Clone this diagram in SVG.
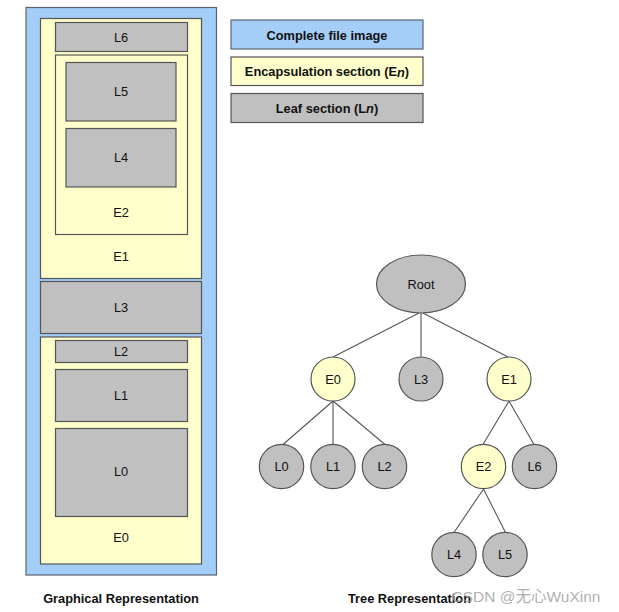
<svg xmlns="http://www.w3.org/2000/svg" width="619" height="612" viewBox="0 0 619 612">
<style>
.blue{fill:#a4cdf7;stroke:#5a6470;stroke-width:1.2}
.enc{fill:#ffffcc;stroke:#555;stroke-width:1.2}
.leaf{fill:#c0c0c0;stroke:#555;stroke-width:1.2}
.t{font-family:"Liberation Sans",Arial,sans-serif;font-size:12.8px;fill:#111;text-anchor:middle;dominant-baseline:central}
.b{font-weight:bold;font-size:12.8px}
.edge{stroke:#555;stroke-width:1.1;fill:none}
</style>
<rect width="619" height="612" fill="#fff"/>
<g id="graphical">
  <g id="file"><rect class="blue" x="26" y="7.5" width="190.5" height="567.5"/></g>
  <g id="gE1"><rect class="enc" x="40.5" y="18.5" width="161" height="260"/><text class="t" x="121" y="256">E1</text></g>
  <g id="gL6"><rect class="leaf" x="55.5" y="22.5" width="132" height="29"/><text class="t" x="121" y="37">L6</text></g>
  <g id="gE2"><rect class="enc" x="55.5" y="55" width="132" height="179.5"/><text class="t" x="121" y="212">E2</text></g>
  <g id="gL5"><rect class="leaf" x="66" y="62.5" width="110" height="58.5"/><text class="t" x="121" y="91.5">L5</text></g>
  <g id="gL4"><rect class="leaf" x="66" y="128.5" width="110" height="58.5"/><text class="t" x="121" y="157.5">L4</text></g>
  <g id="gL3"><rect class="leaf" x="40.5" y="281.5" width="161" height="52"/><text class="t" x="121" y="307.5">L3</text></g>
  <g id="gE0"><rect class="enc" x="40.5" y="337" width="161" height="227"/><text class="t" x="121" y="537.5">E0</text></g>
  <g id="gL2"><rect class="leaf" x="55.5" y="340.5" width="132" height="22"/><text class="t" x="121" y="351.5">L2</text></g>
  <g id="gL1"><rect class="leaf" x="55.5" y="369.5" width="132" height="52"/><text class="t" x="121" y="395">L1</text></g>
  <g id="gL0"><rect class="leaf" x="55.5" y="428.5" width="132" height="88"/><text class="t" x="121" y="471.5">L0</text></g>
  <text class="t b" x="121" y="598">Graphical Representation</text>
</g>
<g id="legend">
  <g id="legFile"><rect class="blue" x="231" y="20" width="192" height="29" stroke="#555"/><text class="t b" x="327" y="35">Complete file image</text></g>
  <g id="legEnc"><rect class="enc" x="231" y="57" width="192" height="28.5"/><text class="t b" x="327" y="71.5">Encapsulation section (E<tspan font-style="italic">n</tspan>)</text></g>
  <g id="legLeaf"><rect class="leaf" x="231" y="93.5" width="192" height="29"/><text class="t b" x="327" y="108">Leaf section (L<tspan font-style="italic">n</tspan>)</text></g>
</g>
<g id="connectors">
  <line class="edge" x1="419" y1="313" x2="333" y2="357"/>
  <line class="edge" x1="421" y1="313" x2="421" y2="357"/>
  <line class="edge" x1="423" y1="313" x2="508" y2="357"/>
  <line class="edge" x1="333" y1="401" x2="283" y2="444.5"/>
  <line class="edge" x1="333" y1="401" x2="333" y2="444.5"/>
  <line class="edge" x1="333" y1="401" x2="385" y2="444.5"/>
  <line class="edge" x1="509" y1="401" x2="483" y2="444.5"/>
  <line class="edge" x1="509" y1="401" x2="534" y2="444.5"/>
  <line class="edge" x1="483.5" y1="489" x2="454" y2="532.5"/>
  <line class="edge" x1="483.5" y1="489" x2="505.5" y2="532.5"/>
</g>
<g id="tree">
  <g id="nRoot"><ellipse class="leaf" cx="421" cy="284" rx="44.5" ry="29"/><text class="t" x="421" y="284">Root</text></g>
  <g id="nE0"><circle class="enc" cx="333" cy="379" r="22"/><text class="t" x="333" y="379">E0</text></g>
  <g id="nL3"><circle class="leaf" cx="421" cy="379" r="22"/><text class="t" x="421" y="379">L3</text></g>
  <g id="nE1"><circle class="enc" cx="509" cy="379" r="22"/><text class="t" x="509" y="379">E1</text></g>
  <g id="nL0"><circle class="leaf" cx="281.5" cy="466.5" r="22.2"/><text class="t" x="281.5" y="466.5">L0</text></g>
  <g id="nL1"><circle class="leaf" cx="333" cy="466.5" r="22.2"/><text class="t" x="333" y="466.5">L1</text></g>
  <g id="nL2"><circle class="leaf" cx="384.5" cy="466.5" r="22.2"/><text class="t" x="384.5" y="466.5">L2</text></g>
  <g id="nE2"><circle class="enc" cx="483.5" cy="466.5" r="22.2"/><text class="t" x="483.5" y="466.5">E2</text></g>
  <g id="nL6"><circle class="leaf" cx="534.5" cy="466.5" r="22.2"/><text class="t" x="534.5" y="466.5">L6</text></g>
  <g id="nL4"><circle class="leaf" cx="454" cy="554.5" r="22.2"/><text class="t" x="454" y="554.5">L4</text></g>
  <g id="nL5"><circle class="leaf" cx="505" cy="554.5" r="22.2"/><text class="t" x="505" y="554.5">L5</text></g>
  <text class="t b" x="409.5" y="598.5">Tree Representation</text>
</g>
<text x="526" y="596" font-family="'Liberation Sans','Noto Sans CJK SC',sans-serif" font-size="15.5" fill="#9a9a9a" fill-opacity="0.8" text-anchor="middle" dominant-baseline="central">CSDN @无心WuXinn</text>
</svg>
